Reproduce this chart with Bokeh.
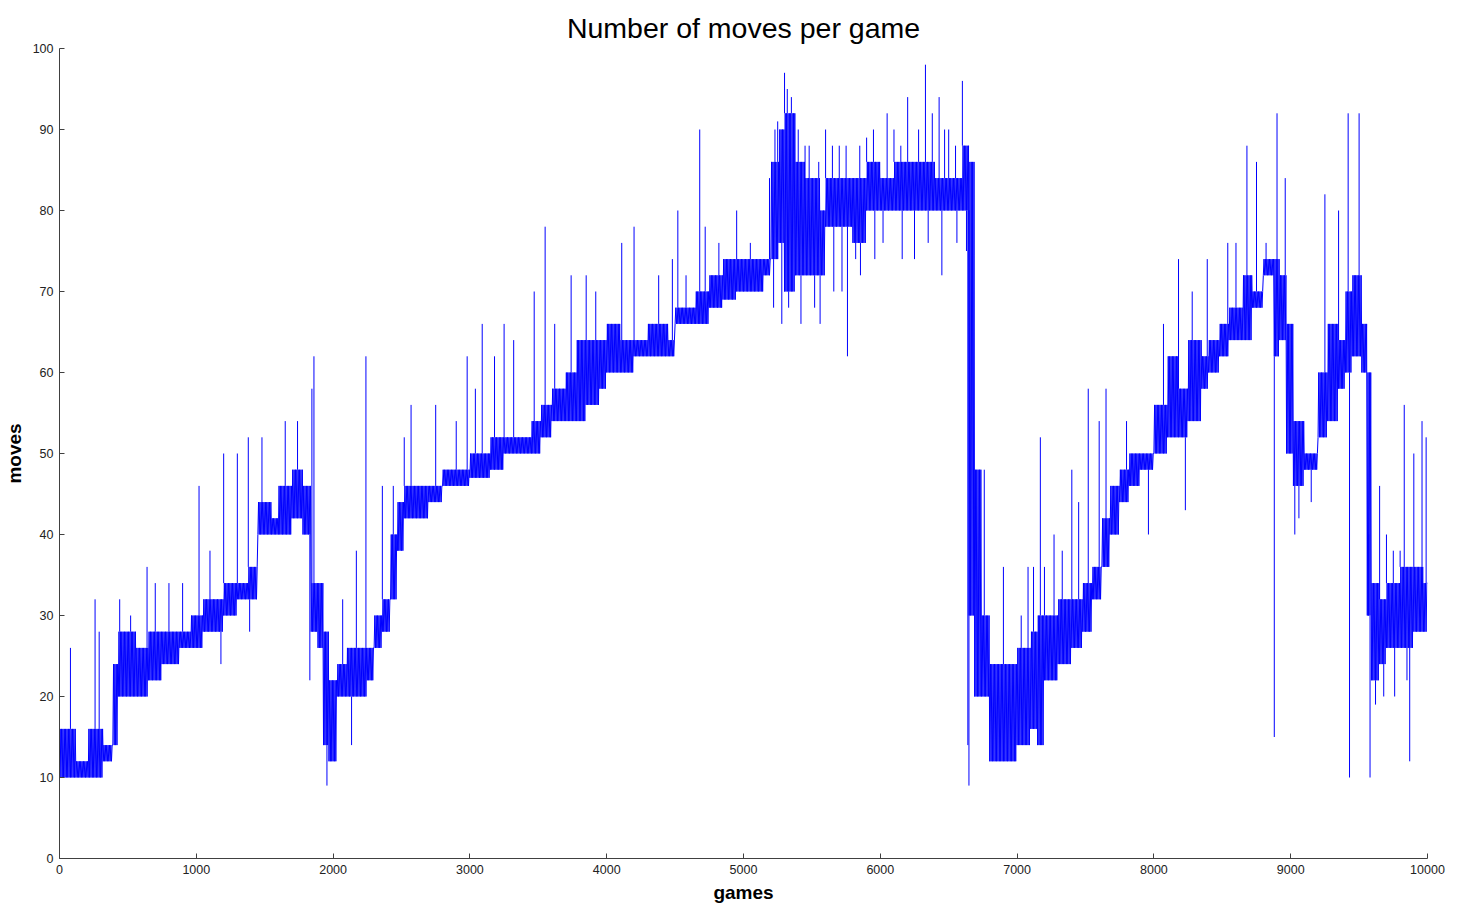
from bokeh.plotting import figure
from bokeh.models import Range1d, FixedTicker
from bokeh.embed import file_html
from bokeh.resources import INLINE

# ---- data (games -> moves) ----
# dense band: from each start game until the next, the value swings between low and high
seg_start = [0, 120, 210, 320, 390, 430, 560, 650, 750, 880, 960, 1050, 1200, 1300, 1380,
             1450, 1550, 1600, 1700, 1780, 1840, 1890, 1930, 1970, 2030, 2100, 2250, 2300,
             2360, 2420, 2470, 2520, 2650, 2700, 2800, 2900, 3000, 3150, 3250, 3350, 3450,
             3520, 3600, 3700, 3780, 3850, 3950, 4000, 4100, 4200, 4300, 4450, 4500, 4650,
             4750, 4850, 4950, 5050, 5150, 5200, 5260, 5300, 5380, 5450, 5500, 5560, 5600,
             5700, 5800, 5900, 6000, 6100, 6200, 6300, 6400, 6500, 6600, 6650, 6690, 6740,
             6800, 6900, 7000, 7100, 7150, 7200, 7300, 7400, 7480, 7550, 7620, 7680, 7750,
             7820, 7900, 8000, 8100, 8180, 8250, 8350, 8400, 8480, 8550, 8650, 8720, 8800,
             8880, 8920, 8970, 9020, 9100, 9200, 9270, 9350, 9400, 9450, 9520, 9560, 9590,
             9650, 9700, 9800, 9900, 9970]
band_low = [10, 10, 10, 12, 14, 20, 20, 22, 24, 26, 26, 28, 30, 32, 32,
            40, 40, 40, 42, 40, 28, 26, 14, 12, 20, 20, 22, 26,
            28, 32, 38, 42, 42, 44, 46, 46, 47, 48, 50, 50, 50,
            52, 54, 54, 54, 56, 58, 60, 60, 62, 62, 62, 66, 66,
            68, 69, 70, 70, 72, 74, 76, 70, 72, 72, 72, 72, 78,
            78, 76, 80, 80, 80, 80, 80, 80, 80, 80, 30, 20, 20,
            12, 12, 14, 16, 14, 22, 24, 26, 28, 32, 36, 40, 44,
            46, 48, 50, 52, 52, 54, 58, 60, 62, 64, 64, 68, 72,
            62, 64, 50, 46, 48, 52, 54, 58, 60, 62, 60, 30, 22,
            24, 26, 26, 28, 28]
band_high = [16, 12, 16, 14, 24, 28, 26, 28, 28, 28, 30, 32, 34, 34, 36,
             44, 42, 46, 48, 46, 34, 34, 28, 22, 24, 26, 26, 30,
             32, 40, 44, 46, 46, 46, 48, 48, 50, 52, 52, 52, 54,
             56, 58, 60, 64, 64, 64, 66, 64, 64, 66, 64, 68, 70,
             72, 74, 74, 74, 74, 86, 90, 92, 86, 84, 84, 80, 84,
             84, 84, 86, 84, 86, 86, 86, 84, 84, 88, 86, 48, 30,
             24, 24, 26, 28, 30, 30, 32, 32, 34, 36, 42, 46, 48,
             50, 50, 56, 62, 58, 64, 62, 64, 66, 68, 72, 70, 74,
             74, 72, 66, 54, 50, 60, 66, 64, 70, 72, 66, 60, 34,
             32, 34, 36, 36, 34]

# isolated spikes (game, moves)
spike_games = [80, 260, 290, 440, 520, 640, 700, 800, 900, 1020, 1100, 1180, 1200, 1300, 1380,
               1390, 1480, 1650, 1740, 1830, 1845, 1860, 1955, 2070, 2135, 2170, 2240, 2360,
               2440, 2520, 2570, 2750, 2900, 2980, 3040, 3090, 3180, 3250, 3320, 3470, 3550,
               3620, 3740, 3850, 3920, 4110, 4200, 4380, 4480, 4520, 4580, 4680, 4720, 4820,
               4950, 5050, 5190, 5220, 5230, 5250, 5280, 5300, 5320, 5330, 5350, 5400, 5420,
               5450, 5480, 5520, 5550, 5560, 5600, 5650, 5660, 5700, 5720, 5750, 5760, 5820,
               5850, 5855, 5900, 5950, 5960, 6020, 6050, 6100, 6150, 6160, 6200, 6250, 6280,
               6330, 6350, 6380, 6430, 6450, 6470, 6500, 6550, 6560, 6600, 6630, 6640, 6648,
               6760, 6900, 7030, 7080, 7120, 7170, 7200, 7270, 7330, 7400, 7450, 7520, 7600,
               7650, 7800, 7960, 8070, 8180, 8230, 8280, 8390, 8540, 8600, 8680, 8750, 8820,
               8880, 8900, 8960, 9030, 9060, 9150, 9250, 9350, 9420, 9430, 9500, 9570, 9580,
               9620, 9650, 9680, 9700, 9750, 9760, 9800, 9830, 9850, 9870, 9900, 9960, 9990]
spike_moves = [26, 32, 28, 32, 30, 36, 34, 34, 34, 46, 38, 24, 50, 50, 52,
               28, 52, 54, 54, 22, 58, 62, 9, 32, 14, 38, 62, 46,
               46, 52, 56, 56, 54, 62, 58, 66, 62, 66, 64, 70, 78,
               66, 72, 72, 70, 76, 78, 72, 74, 80, 72, 90, 78, 76,
               80, 76, 84, 68, 90, 91, 66, 97, 95, 68, 94, 90, 66,
               88, 88, 68, 86, 66, 90, 88, 70, 88, 70, 88, 62, 74,
               88, 72, 89, 90, 74, 76, 92, 90, 88, 74, 94, 74, 90,
               98, 76, 92, 94, 72, 90, 90, 88, 76, 96, 75, 14, 9,
               48, 36, 30, 36, 36, 52, 36, 40, 38, 48, 44, 58, 54,
               58, 54, 40, 66, 74, 43, 70, 74, 76, 76, 88, 86, 76,
               15, 92, 84, 40, 42, 44, 82, 80, 92, 10, 92, 40, 10,
               19, 46, 20, 40, 38, 20, 38, 56, 22, 12, 50, 54, 52]

x_ticks = list(range(0, 10001, 1000))
y_ticks = list(range(0, 101, 10))

# ---- build the trace from the arrays ----
seg_end = seg_start[1:] + [10000]
xs, ys = [], []
for s, e, lo, hi in zip(seg_start, seg_end, band_low, band_high):
    g, k = s, 0
    while g < e:
        xs.append(g)
        ys.append(lo if k % 2 == 0 else hi)
        g += 5
        k += 1
xs.append(10000)
ys.append(band_high[-1])

sx0, sy0 = [], []
for g, v in zip(spike_games, spike_moves):
    i = max(j for j, s in enumerate(seg_start) if s <= g)
    base = band_high[i] if v > band_high[i] else band_low[i]
    sx0.append(g)
    sy0.append(base)

FONT = "Liberation Sans"
AX = "#404040"

p = figure(frame_width=1368, frame_height=810,
           x_range=Range1d(0, 10000), y_range=Range1d(0, 100),
           output_backend="svg", toolbar_location=None,
           title="Number of moves per game",
           min_border_left=55, min_border_right=30,
           min_border_top=48, min_border_bottom=44)

p.line(xs, ys, line_color="#0000FF", line_width=1)
p.segment(x0=sx0, y0=sy0, x1=spike_games, y1=spike_moves,
          line_color="#0000FF", line_width=1)

p.title.text_font = FONT
p.title.text_font_size = "28.5px"
p.title.text_font_style = "normal"
p.title.text_color = "#000000"
p.title.align = "center"
p.title.standoff = 10

p.grid.visible = False
p.outline_line_color = None
p.background_fill_color = "white"
p.border_fill_color = "white"

p.xaxis.ticker = FixedTicker(ticks=x_ticks)
p.yaxis.ticker = FixedTicker(ticks=y_ticks)
for ax in (p.xaxis[0], p.yaxis[0]):
    ax.axis_line_color = AX
    ax.major_tick_line_color = AX
    ax.major_tick_in = 5
    ax.major_tick_out = 0
    ax.minor_tick_line_color = None
    ax.major_label_text_font = FONT
    ax.major_label_text_font_size = "12.5px"
    ax.major_label_text_color = "#222222"
    ax.major_label_standoff = 6
    ax.axis_label_text_font = FONT
    ax.axis_label_text_font_size = "19px"
    ax.axis_label_text_font_style = "bold"
    ax.axis_label_text_color = "#000000"
    ax.axis_label_standoff = 5

p.xaxis.axis_label = "games"
p.yaxis.axis_label = "moves"
p.yaxis.major_label_orientation = "horizontal"

open("out.html", "w").write(file_html(p, INLINE))
